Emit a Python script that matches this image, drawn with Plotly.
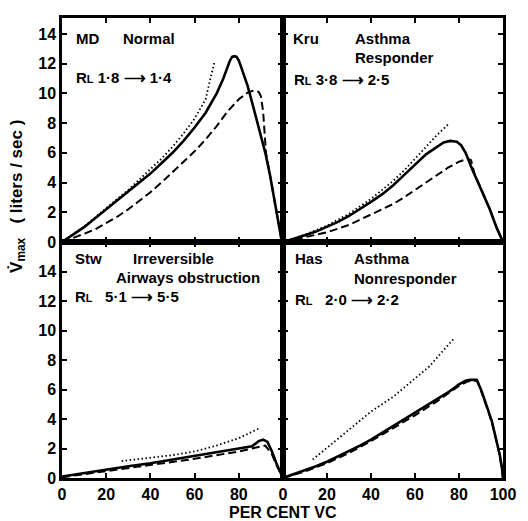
import plotly.graph_objects as go

# ---------------- data (per cent VC vs Vmax, liters/sec) ----------------
# Panel 1: MD Normal
md_solid_x = [0, 2, 5, 10, 15, 20, 25, 30, 35, 40, 45, 50, 55, 60, 65, 70, 73, 76, 77, 78, 79, 80, 81, 82, 84, 86, 88, 90, 92, 94, 96, 98, 99, 99.5]
md_solid_y = [0, 0.2, 0.5, 1.0, 1.6, 2.2, 2.8, 3.4, 4.0, 4.6, 5.3, 6.0, 6.8, 7.7, 8.7, 10.0, 11.0, 12.2, 12.45, 12.5, 12.45, 12.2, 11.8, 11.4, 10.5, 9.4, 8.3, 7.1, 6.0, 4.6, 3.0, 1.3, 0.4, 0]
md_dot_x = [0, 5, 10, 15, 20, 25, 30, 35, 40, 45, 50, 55, 60, 65, 67, 69]
md_dot_y = [0, 0.5, 1.05, 1.65, 2.3, 2.9, 3.5, 4.2, 4.85, 5.6, 6.4, 7.3, 8.3, 9.6, 10.9, 12.1]
md_dash_x = [0, 5, 10, 15, 20, 25, 30, 35, 40, 45, 50, 55, 60, 65, 70, 75, 80, 84, 87, 89, 90, 91, 91.5, 92.3, 94, 96, 98, 99.5]
md_dash_y = [0, 0.25, 0.55, 0.85, 1.25, 1.7, 2.2, 2.75, 3.35, 4.0, 4.7, 5.4, 6.1, 6.9, 7.8, 8.8, 9.6, 10.05, 10.2, 10.1, 9.8, 8.8, 7.5, 6.0, 4.6, 3.0, 1.3, 0]

# Panel 2: Kru Asthma Responder
kru_solid_x = [0, 5, 10, 15, 20, 25, 30, 35, 40, 45, 50, 55, 60, 65, 70, 73, 76, 79, 81, 83, 86, 90, 94, 97, 100]
kru_solid_y = [0, 0.2, 0.45, 0.7, 1.0, 1.35, 1.75, 2.2, 2.7, 3.2, 3.8, 4.5, 5.2, 5.9, 6.4, 6.7, 6.8, 6.75, 6.5, 6.0, 4.9, 3.6, 2.2, 1.0, 0]
kru_dot_x = [0, 10, 20, 30, 40, 50, 55, 60, 65, 70, 75.7]
kru_dot_y = [0, 0.5, 1.1, 1.9, 2.9, 4.1, 4.8, 5.6, 6.4, 7.2, 8.0]
kru_dash_x = [0, 10, 20, 30, 40, 50, 55, 60, 65, 70, 75, 80, 84, 85.5, 87, 90, 94, 97, 100]
kru_dash_y = [0, 0.3, 0.65, 1.15, 1.85, 2.55, 3.0, 3.5, 4.0, 4.5, 5.0, 5.4, 5.6, 5.5, 4.6, 3.6, 2.2, 1.0, 0]

# Panel 3: Stw Irreversible airways obstruction
stw_solid_x = [0, 10, 20, 30, 40, 50, 60, 70, 80, 86, 89, 91, 93, 95, 97, 100]
stw_solid_y = [0.1, 0.35, 0.55, 0.8, 1.0, 1.25, 1.45, 1.7, 1.95, 2.15, 2.5, 2.6, 2.45, 1.8, 1.0, 0]
stw_dot_x = [27, 40, 50, 60, 70, 80, 86, 89]
stw_dot_y = [1.15, 1.35, 1.55, 1.8, 2.2, 2.7, 3.1, 3.35]
stw_dash_x = [0, 20, 40, 60, 80, 88, 92, 95, 97, 100]
stw_dash_y = [0.05, 0.45, 0.85, 1.3, 1.8, 2.1, 2.2, 1.6, 0.9, 0]

# Panel 4: Has Asthma Nonresponder
has_solid_x = [0, 5, 10, 15, 20, 25, 30, 35, 40, 45, 50, 55, 60, 65, 70, 75, 80, 83, 85, 88, 90, 91.5, 93, 95, 97, 98.5, 99.5, 100]
has_solid_y = [0, 0.25, 0.5, 0.8, 1.1, 1.45, 1.8, 2.2, 2.6, 3.05, 3.5, 3.95, 4.4, 4.9, 5.35, 5.8, 6.35, 6.6, 6.65, 6.65, 6.0, 5.4, 4.7, 3.8, 2.6, 1.6, 0.7, 0]
has_dot_x = [13.5, 20, 30, 40, 50, 60, 66.5, 72, 78]
has_dot_y = [1.25, 2.05, 3.3, 4.5, 5.5, 6.75, 7.56, 8.5, 9.5]
has_dash_x = [0, 10, 20, 30, 40, 50, 60, 70, 80, 84, 87, 88.5, 90, 91.5, 93, 95, 97, 98.5, 99.5, 100]
has_dash_y = [0, 0.45, 1.0, 1.7, 2.5, 3.35, 4.25, 5.2, 6.25, 6.55, 6.6, 6.55, 5.95, 5.35, 4.65, 3.75, 2.55, 1.55, 0.65, 0]

x_ticks = [0, 20, 40, 60, 80, 100]
y_ticks = [0, 2, 4, 6, 8, 10, 12, 14]

panels = [
    ("x", "y", md_solid_x, md_solid_y, md_dot_x, md_dot_y, md_dash_x, md_dash_y),
    ("x2", "y2", kru_solid_x, kru_solid_y, kru_dot_x, kru_dot_y, kru_dash_x, kru_dash_y),
    ("x3", "y3", stw_solid_x, stw_solid_y, stw_dot_x, stw_dot_y, stw_dash_x, stw_dash_y),
    ("x4", "y4", has_solid_x, has_solid_y, has_dot_x, has_dot_y, has_dash_x, has_dash_y),
]

fig = go.Figure()
for xa, ya, sx, sy, ox, oy, dx, dy in panels:
    fig.add_trace(go.Scatter(x=dx, y=dy, xaxis=xa, yaxis=ya, mode="lines",
                             line=dict(color="black", width=2, dash="8px,4px")))
    fig.add_trace(go.Scatter(x=ox, y=oy, xaxis=xa, yaxis=ya, mode="lines",
                             line=dict(color="black", width=1.8, dash="1.5px,2.5px")))
    fig.add_trace(go.Scatter(x=sx, y=sy, xaxis=xa, yaxis=ya, mode="lines",
                             line=dict(color="black", width=2.6)))

FAM = "Liberation Sans, Arial, sans-serif"
tickfont = dict(family=FAM, size=16, color="black", weight="bold")
common = dict(showline=True, linewidth=2.5, linecolor="black", mirror="ticks",
              ticks="inside", ticklen=5, tickwidth=2, tickcolor="black",
              showgrid=False, zeroline=False, tickfont=tickfont, fixedrange=True)

xsplit = 225 / 449
ysplit = 236 / 460

layout = dict(
    width=528, height=521, paper_bgcolor="white", plot_bgcolor="white",
    margin=dict(l=62, r=17, t=18, b=43), showlegend=False,
    font=dict(family=FAM, color="black"),
    xaxis=dict(common, domain=[0, xsplit], range=[0, 100], tickvals=x_ticks, showticklabels=False, anchor="y"),
    yaxis=dict(common, domain=[ysplit, 1], range=[0, 15.07], tickvals=y_ticks, anchor="x"),
    xaxis2=dict(common, domain=[xsplit, 1], range=[0, 100], tickvals=x_ticks, showticklabels=False, anchor="y2"),
    yaxis2=dict(common, domain=[ysplit, 1], range=[0, 15.07], tickvals=y_ticks, showticklabels=False, anchor="x2"),
    xaxis3=dict(common, domain=[0, xsplit], range=[0, 100], tickvals=x_ticks,
                ticktext=["0", "20", "40", "60", "80", ""], anchor="y3"),
    yaxis3=dict(common, domain=[0, ysplit], range=[0, 16.0], tickvals=y_ticks, anchor="x3"),
    xaxis4=dict(common, domain=[xsplit, 1], range=[0, 100], tickvals=x_ticks, anchor="y4"),
    yaxis4=dict(common, domain=[0, ysplit], range=[0, 16.0], tickvals=y_ticks, showticklabels=False, anchor="x4"),
)
fig.update_layout(**layout)

afont = dict(family=FAM, size=15, color="black", weight="bold")
RL = "R<span style='font-size:11px'>L</span>"
labels = [
    ("x", "y", 5.5, 13.7, "MD"),
    ("x", "y", 26.5, 13.7, "Normal"),
    ("x", "y", 5.5, 11.1, RL + " 1·8 ⟶ 1·4"),
    ("x2", "y2", 3.7, 13.7, "Kru"),
    ("x2", "y2", 31.6, 13.7, "Asthma"),
    ("x2", "y2", 31.6, 12.4, "Responder"),
    ("x2", "y2", 4.0, 10.9, RL + " 3·8 ⟶ 2·5"),
    ("x3", "y3", 5.0, 14.9, "Stw"),
    ("x3", "y3", 31, 14.9, "Irreversible"),
    ("x3", "y3", 23.6, 13.6, "Airways obstruction"),
    ("x3", "y3", 5.0, 12.3, RL + "   5·1 ⟶ 5·5"),
    ("x4", "y4", 4.4, 14.9, "Has"),
    ("x4", "y4", 31.5, 14.9, "Asthma"),
    ("x4", "y4", 31.5, 13.5, "Nonresponder"),
    ("x4", "y4", 4.4, 12.1, RL + "   2·0 ⟶ 2·2"),
]
for xa, ya, xv, yv, txt in labels:
    fig.add_annotation(x=xv, y=yv, xref=xa, yref=ya, text=txt, showarrow=False,
                       xanchor="left", yanchor="middle", font=afont)

fig.add_annotation(x=xsplit, y=-0.074, xref="paper", yref="paper", text="PER CENT VC",
                   showarrow=False, xanchor="center", yanchor="middle",
                   font=dict(family=FAM, size=16, color="black", weight="bold"))
fig.add_annotation(x=-0.1, y=0.613, xref="paper", yref="paper",
                   text="V̇<sub>max</sub>   ( liters / sec )", textangle=-90,
                   showarrow=False, xanchor="center", yanchor="middle",
                   font=dict(family=FAM, size=17, color="black", weight="bold"))

fig.write_html("out.html", config={"displayModeBar": False},
               post_script="document.body.style.margin='0px';document.body.style.overflow='hidden';")
